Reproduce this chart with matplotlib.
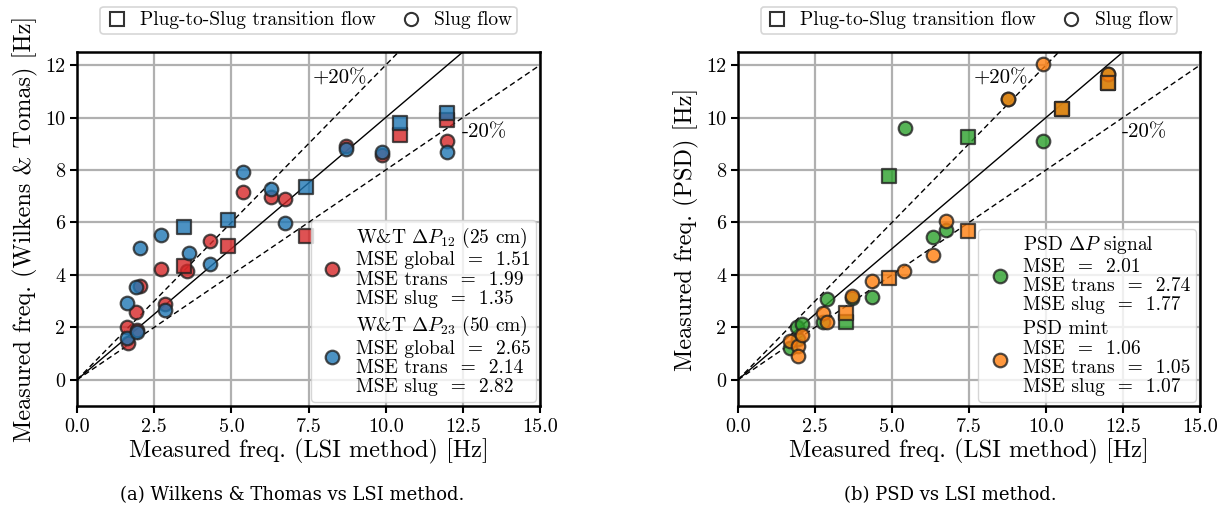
import matplotlib
matplotlib.use("Agg")
import matplotlib.pyplot as plt
from matplotlib.lines import Line2D
import numpy as np

plt.rcParams['font.family'] = 'serif'
plt.rcParams['font.serif'] = ['cmr10', 'DejaVu Serif']
plt.rcParams['mathtext.fontset'] = 'cm'
plt.rcParams['axes.formatter.use_mathtext'] = True
plt.rcParams['axes.unicode_minus'] = False

# ---------------- Data: (a) Wilkens & Thomas vs LSI ----------------
wt12_trans_x = [3.47, 4.90, 7.41, 10.46, 11.98]
wt12_trans_y = [4.32, 5.12, 5.49, 9.33, 9.90]
wt12_slug_x = [1.66, 1.63, 1.90, 1.93, 2.04, 2.71, 2.85, 3.57, 4.31, 5.37, 6.28, 6.74, 8.71, 9.87, 11.98]
wt12_slug_y = [1.40, 2.00, 2.58, 1.88, 3.58, 4.23, 2.90, 4.16, 5.31, 7.17, 6.96, 6.90, 8.93, 8.57, 9.12]

wt23_trans_x = [3.47, 4.90, 7.42, 10.46, 11.98]
wt23_trans_y = [5.84, 6.10, 7.36, 9.80, 10.18]
wt23_slug_x = [1.63, 1.93, 1.63, 1.90, 2.04, 2.71, 2.85, 3.64, 4.31, 5.37, 6.28, 6.74, 8.71, 9.87, 11.98]
wt23_slug_y = [1.59, 1.82, 2.92, 3.52, 5.04, 5.52, 2.67, 4.82, 4.42, 7.91, 7.28, 5.99, 8.80, 8.67, 8.70]

# ---------------- Data: (b) PSD vs LSI ----------------
psd_trans_x = [3.51, 4.91, 7.46, 10.51, 12.00]
psd_trans_y = [2.22, 7.78, 9.27, 10.32, 11.33]
psd_slug_x = [1.69, 1.96, 1.90, 2.07, 2.75, 2.88, 3.69, 4.34, 5.42, 6.32, 6.75, 8.76, 9.91, 12.00]
psd_slug_y = [1.23, 1.55, 2.03, 2.12, 2.20, 3.09, 3.10, 3.15, 9.61, 5.46, 5.71, 10.70, 9.10, 11.68]

mint_trans_x = [3.51, 4.91, 7.46, 10.51, 12.00]
mint_trans_y = [2.56, 3.87, 5.68, 10.32, 11.33]
mint_slug_x = [1.69, 1.96, 1.94, 2.07, 2.75, 2.88, 3.69, 4.34, 5.40, 6.32, 6.75, 8.76, 9.91, 12.00]
mint_slug_y = [1.49, 1.27, 0.89, 1.71, 2.54, 2.20, 3.21, 3.77, 4.13, 4.74, 6.07, 10.70, 12.06, 11.68]

x_ticks = [0.0, 2.5, 5.0, 7.5, 10.0, 12.5, 15.0]
y_ticks = [0, 2, 4, 6, 8, 10, 12]

label_wt12 = ("W&T $\\Delta P_{12}$ (25 cm)\nMSE global  =  1.51\n"
              "MSE trans  =  1.99\nMSE slug  =  1.35")
label_wt23 = ("W&T $\\Delta P_{23}$ (50 cm)\nMSE global  =  2.65\n"
              "MSE trans  =  2.14\nMSE slug  =  2.82")
label_psd = ("PSD $\\Delta P$ signal\nMSE  =  2.01\n"
             "MSE trans  =  2.74\nMSE slug  =  1.77")
label_mint = ("PSD mint\nMSE  =  1.06\n"
              "MSE trans  =  1.05\nMSE slug  =  1.07")

c_red = '#d62728'
c_blue = '#1f77b4'
c_green = '#2ca02c'
c_orange = '#ff7f0e'
edge = '#222222'

fig = plt.figure(figsize=(12.28, 5.13), dpi=100)
axL = fig.add_axes([77/1228, 107/513, 463/1228, 354/513])
axR = fig.add_axes([738/1228, 107/513, 462/1228, 354/513])

MS = 95


def setup(ax, ylabel):
    xx = np.array([0, 15])
    ax.plot(xx, xx, color='black', lw=1.0, zorder=2)
    ax.plot(xx, 1.2 * xx, color='black', lw=1.0, ls='--', dashes=(4, 2.5), zorder=2)
    ax.plot(xx, 0.8 * xx, color='black', lw=1.0, ls='--', dashes=(4, 2.5), zorder=2)
    ax.set_xlim(0, 15)
    ax.set_ylim(-1, 12.5)
    ax.set_xticks(x_ticks)
    ax.set_yticks(y_ticks)
    ax.set_xticklabels([f"{v:.1f}" for v in x_ticks])
    ax.set_yticklabels([str(v) for v in y_ticks])
    ax.grid(True, color='#b0b0b0', lw=1.6, zorder=0)
    ax.set_axisbelow(True)
    for s in ax.spines.values():
        s.set_linewidth(1.8)
    ax.tick_params(labelsize=14.5, width=1.5, length=5)
    ax.set_xlabel("Measured freq. (LSI method) [Hz]", fontsize=17.5, labelpad=2)
    ax.set_ylabel(ylabel, fontsize=17.5, labelpad=5)
    ax.text(7.65, 11.5, "+20%", fontsize=15, va='center', ha='left', zorder=3)
    ax.text(12.45, 9.45, "-20%", fontsize=15, va='center', ha='left', zorder=3)
    handles = [Line2D([], [], ls='none', marker='s', mfc='white', mec='#333333', mew=1.5, ms=9.5),
               Line2D([], [], ls='none', marker='o', mfc='white', mec='#333333', mew=1.5, ms=9.5)]
    leg = ax.legend(handles, ["Plug-to-Slug transition flow", "Slug flow"],
                    loc='lower center', bbox_to_anchor=(0.5, 1.05), ncol=2,
                    fontsize=14, frameon=True, borderaxespad=0, handletextpad=0.6,
                    columnspacing=1.2, borderpad=0.25, handlelength=1.2)
    leg.get_frame().set_edgecolor('#cccccc')
    leg.get_frame().set_linewidth(1.2)
    ax.add_artist(leg)


def scat(ax, x, y, color, marker, label=None):
    return ax.scatter(x, y, s=MS, marker=marker, c=color, alpha=0.8,
                      edgecolors=edge, linewidths=1.6, zorder=4, label=label)


setup(axL, "Measured freq. (Wilkens & Tomas) [Hz]")
h1 = scat(axL, wt12_slug_x, wt12_slug_y, c_red, 'o', label_wt12)
scat(axL, wt12_trans_x, wt12_trans_y, c_red, 's')
h2 = scat(axL, wt23_slug_x, wt23_slug_y, c_blue, 'o', label_wt23)
scat(axL, wt23_trans_x, wt23_trans_y, c_blue, 's')

setup(axR, "Measured freq. (PSD) [Hz]")
h3 = scat(axR, psd_slug_x, psd_slug_y, c_green, 'o', label_psd)
scat(axR, psd_trans_x, psd_trans_y, c_green, 's')
h4 = scat(axR, mint_slug_x, mint_slug_y, c_orange, 'o', label_mint)
scat(axR, mint_trans_x, mint_trans_y, c_orange, 's')

for ax, hs in ((axL, [h1, h2]), (axR, [h3, h4])):
    lg = ax.legend(handles=hs, loc='lower right', fontsize=14, labelspacing=0.3,
                   handletextpad=0.4, borderpad=0.3, borderaxespad=0.2,
                   handlelength=1.6, framealpha=0.8)
    for t in lg.get_texts():
        t.set_linespacing(1.1)
    lg.get_frame().set_edgecolor('#cccccc')
    lg.set_zorder(5)

fig.text(292 / 1228, 0.035, "(a) Wilkens & Thomas vs LSI method.",
         ha='center', va='center', fontsize=13, family='DejaVu Serif')
fig.text(950 / 1228, 0.035, "(b) PSD vs LSI method.",
         ha='center', va='center', fontsize=13, family='DejaVu Serif')

fig.savefig("out.png", dpi=100)
